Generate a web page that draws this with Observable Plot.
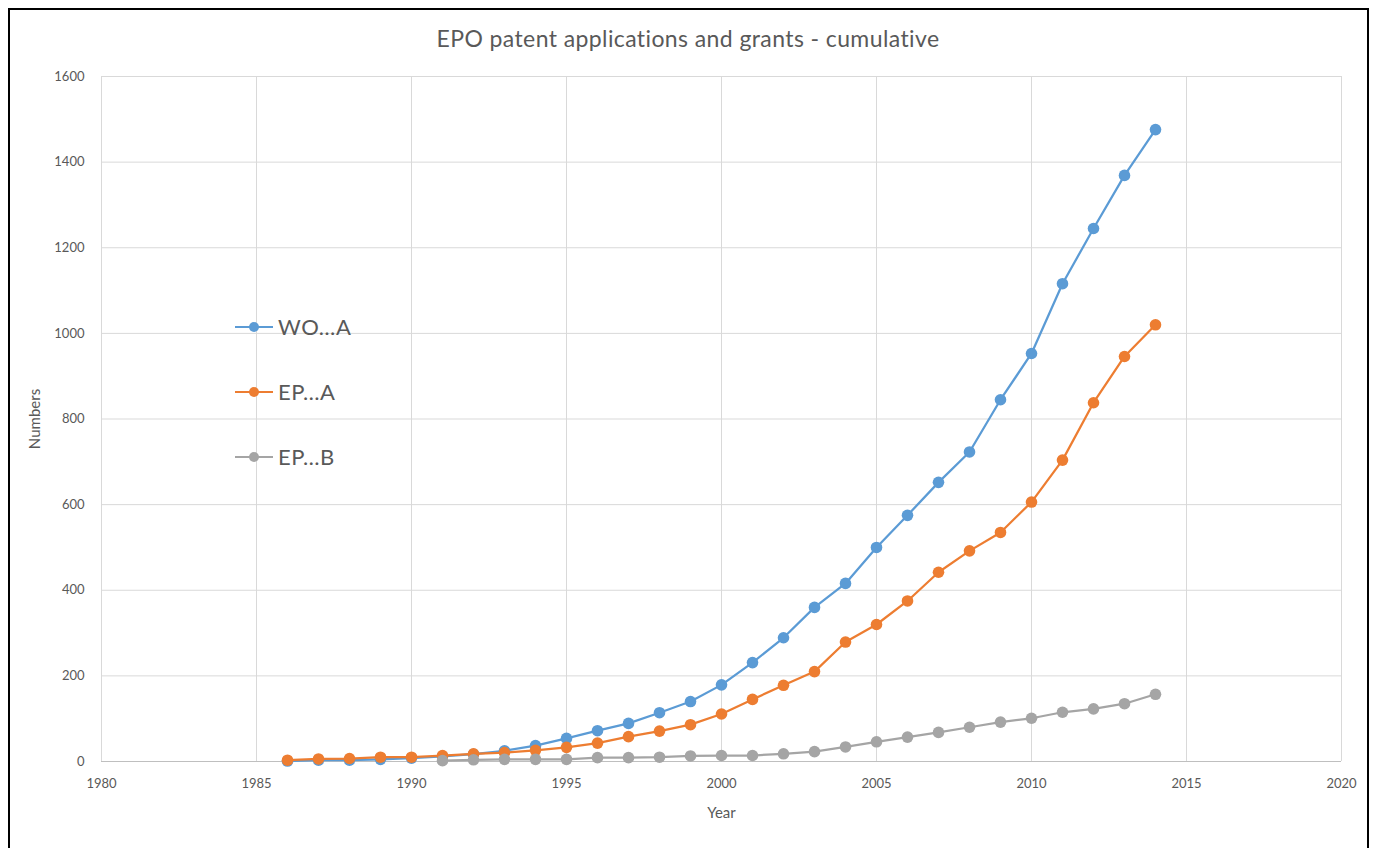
<!DOCTYPE html>
<html><head><meta charset="utf-8">
<script src="https://cdn.jsdelivr.net/npm/d3@7"></script>
<script src="https://cdn.jsdelivr.net/npm/@observablehq/plot@0.6"></script>
<style>
body{margin:0;background:#fff;font-family:Lato,"Open Sans",sans-serif;width:1374px;height:848px;overflow:hidden;position:relative;}
#frame{position:absolute;left:8px;top:8px;width:1361px;height:860px;border:2px solid #000;box-sizing:border-box;}
#title{position:absolute;top:24px;left:0;width:1376px;text-align:center;font-size:23px;letter-spacing:0.4px;color:#595959;}
#chart{position:absolute;left:0;top:60px;}
#legend{position:absolute;left:235px;top:294px;font-size:22px;letter-spacing:0.6px;color:#595959;}
#legend .row{display:flex;align-items:center;height:65px;}
#legend svg{margin-right:5px;}
</style>
</head><body>
<div id="frame"></div>
<div id="title">EPO patent applications and grants - cumulative</div>
<div id="chart"></div>
<div id="legend"></div>
<script>
const years = [1986,1987,1988,1989,1990,1991,1992,1993,1994,1995,1996,1997,1998,1999,2000,2001,2002,2003,2004,2005,2006,2007,2008,2009,2010,2011,2012,2013,2014];
const woA = [1,3,3,5,8,12,17,25,37,54,72,89,114,140,179,231,289,360,416,500,575,652,723,845,953,1116,1245,1369,1476];
const epA = [3,6,7,10,10,14,18,21,26,33,43,58,71,86,111,145,178,210,279,320,375,442,492,535,606,704,838,946,1020];
const epBYears = [1991,1992,1993,1994,1995,1996,1997,1998,1999,2000,2001,2002,2003,2004,2005,2006,2007,2008,2009,2010,2011,2012,2013,2014];
const epB = [2,4,5,5,5,9,9,10,13,14,14,18,23,34,46,57,68,80,92,101,115,123,135,157];
const seriesNames = ["WO…A","EP…A","EP…B"];
const seriesColors = ["#5B9BD5","#ED7D31","#A5A5A5"];
const xTicks = [1980,1985,1990,1995,2000,2005,2010,2015,2020];
const yTicks = [0,200,400,600,800,1000,1200,1400,1600];
const xLabel = "Year";
const yLabel = "Numbers";

const rows = [];
years.forEach((yr,i)=>rows.push({series:seriesNames[0],year:yr,value:woA[i]}));
years.forEach((yr,i)=>rows.push({series:seriesNames[1],year:yr,value:epA[i]}));
epBYears.forEach((yr,i)=>rows.push({series:seriesNames[2],year:yr,value:epB[i]}));

const marks = [
  Plot.gridX(xTicks,{stroke:"#d9d9d9",strokeOpacity:1}),
  Plot.gridY(yTicks,{stroke:"#d9d9d9",strokeOpacity:1}),
  Plot.ruleY([0],{stroke:"#bfbfbf"}),
  Plot.axisX(xTicks,{tickSize:0,tickPadding:17,tickFormat:d=>String(d),fontSize:13,color:"#595959",label:null}),
  Plot.axisY(yTicks,{tickSize:0,tickPadding:17,fontSize:13,color:"#595959",tickFormat:d=>String(d),label:null}),
  Plot.text([xLabel],{text:d=>d,frameAnchor:"bottom",dy:56,fontSize:15,fill:"#595959"}),
  Plot.text([yLabel],{text:d=>d,frameAnchor:"left",dx:-66,rotate:-90,textAnchor:"middle",lineAnchor:"middle",fontSize:15,fill:"#595959"})
];
seriesNames.forEach((s,k)=>{
  const d = rows.filter(r=>r.series===s);
  marks.push(Plot.line(d,{x:"year",y:"value",stroke:seriesColors[k],strokeWidth:2.25}));
  marks.push(Plot.dot(d,{x:"year",y:"value",fill:seriesColors[k],r:5.8,stroke:"none"}));
});

const chart = Plot.plot({
  width:1374,height:788,
  marginLeft:101,marginRight:33,marginTop:16,marginBottom:87,
  style:{fontFamily:"Lato, 'Open Sans', sans-serif",fontSize:"13px",color:"#595959",background:"transparent"},
  x:{domain:[1980,2020]},
  y:{domain:[0,1600]},
  marks
});
document.getElementById("chart").appendChild(chart);

const leg = document.getElementById("legend");
seriesNames.forEach((s,k)=>{
  const row = document.createElement("div");
  row.className="row";
  row.innerHTML = `<svg width="38" height="12"><line x1="0" x2="38" y1="6" y2="6" stroke="${seriesColors[k]}" stroke-width="2"/><circle cx="19" cy="6" r="5" fill="${seriesColors[k]}"/></svg><span>${s}</span>`;
  leg.appendChild(row);
});
</script>
</body></html>
